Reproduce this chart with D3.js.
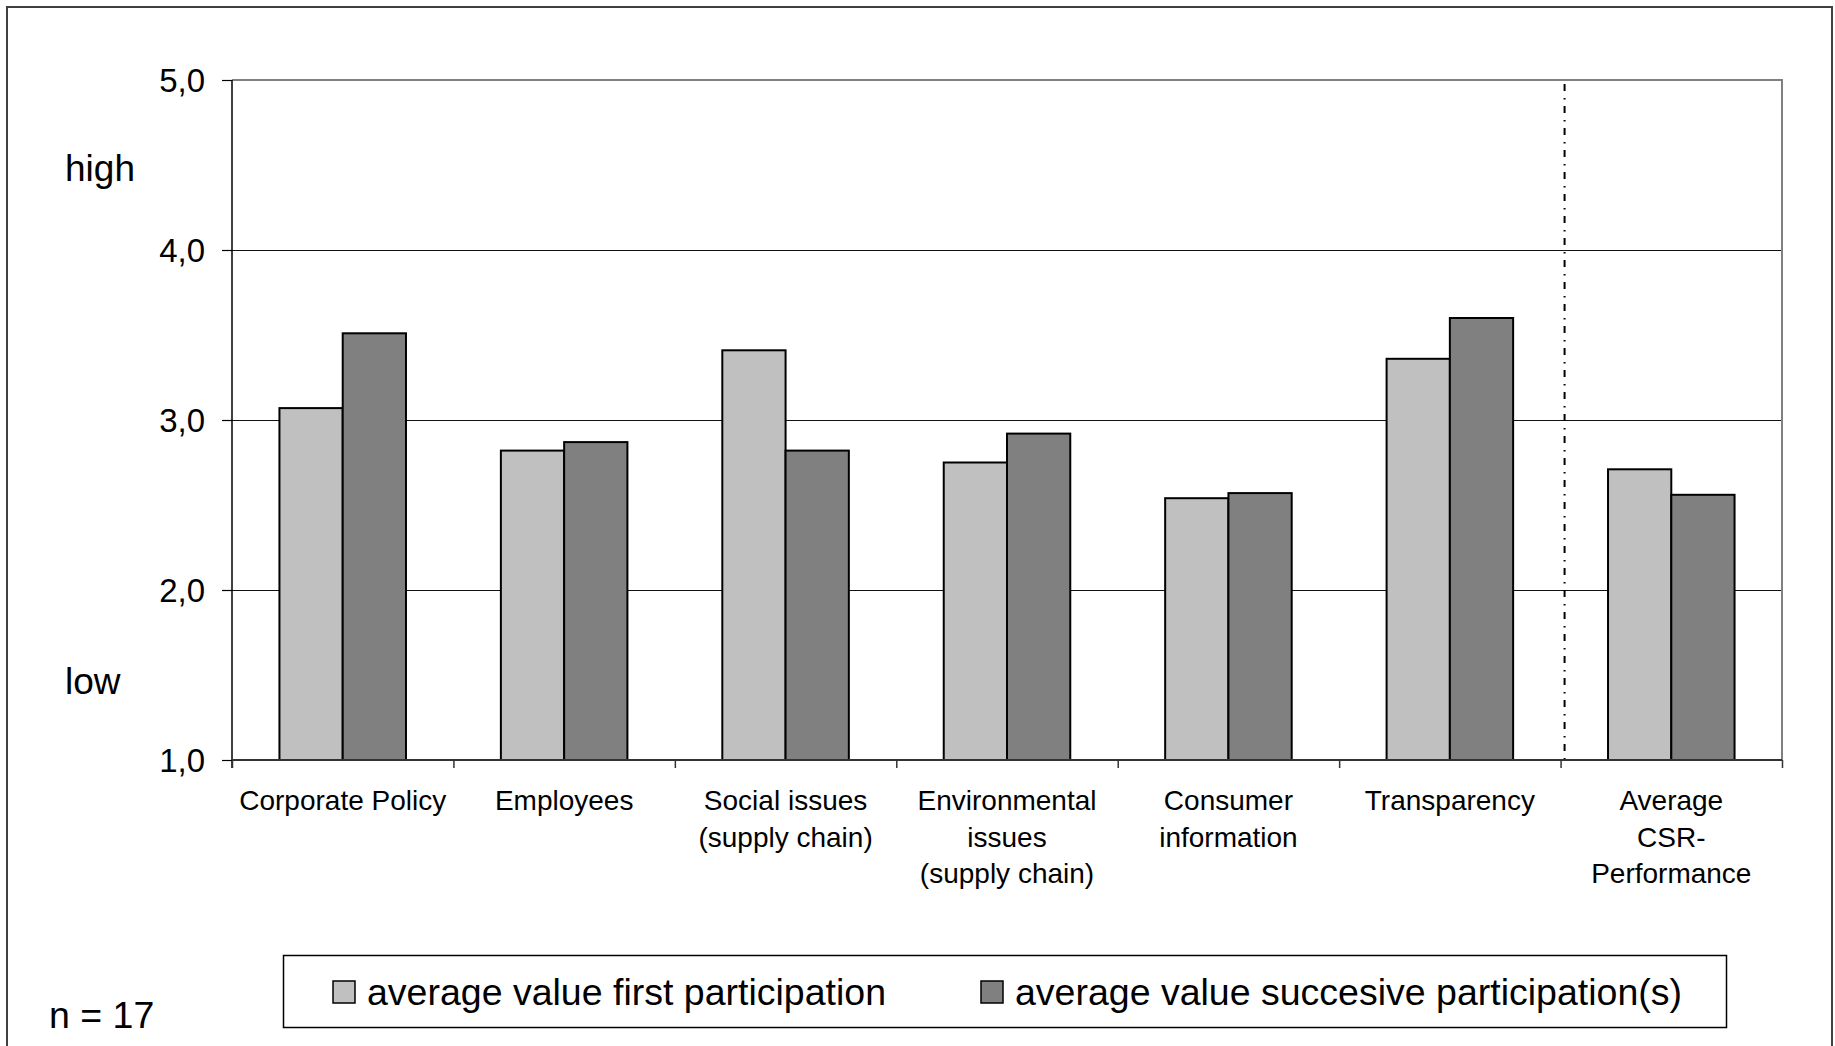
<!DOCTYPE html>
<html>
<head>
<meta charset="utf-8">
<script src="https://cdn.jsdelivr.net/npm/d3@7"></script>
<style>
  html, body { margin: 0; padding: 0; background: #fff; }
  svg { display: block; font-family: "Liberation Sans", Arial, Helvetica, sans-serif; }
</style>
</head>
<body>
<svg id="chart" width="1835" height="1046"></svg>
<script>
// CSR ratings per dimension, first vs. successive participation
const categories = [
  "Corporate Policy",
  "Employees",
  "Social issues\n(supply chain)",
  "Environmental\nissues\n(supply chain)",
  "Consumer\ninformation",
  "Transparency",
  "Average\nCSR-\nPerformance"
];
const seriesNames = [
  "average value first participation",
  "average value succesive participation(s)"
];
const firstParticipation     = [3.07, 2.82, 3.41, 2.75, 2.54, 3.36, 2.71];
const successiveParticipation = [3.51, 2.87, 2.82, 2.92, 2.57, 3.60, 2.56];
const yTicks = [1, 2, 3, 4, 5];
const seriesColors = ["#c0c0c0", "#808080"];
const sampleNote = "n = 17";

const svg = d3.select("#chart");
const W = 1835, H = 1046;
const plot = { left: 232, right: 1782, top: 80, bottom: 760 };

// outer frame
svg.append("rect")
  .attr("x", 7).attr("y", 7)
  .attr("width", W - 7 - 3).attr("height", H + 20)
  .attr("fill", "none").attr("stroke", "#404040").attr("stroke-width", 2);

const x = d3.scaleBand().domain(categories).range([plot.left, plot.right]).paddingInner(0).paddingOuter(0);
const xs = d3.scaleBand().domain([0, 1]).range([0, x.bandwidth()]).paddingInner(0).paddingOuter(0.75);
const y = d3.scaleLinear().domain([1, 5]).range([plot.bottom, plot.top]);

// horizontal gridlines
svg.append("g").selectAll("line")
  .data(yTicks.filter(v => v > 1 && v < 5))
  .join("line")
  .attr("x1", plot.left).attr("x2", plot.right)
  .attr("y1", d => Math.round(y(d)) + 0.5).attr("y2", d => Math.round(y(d)) + 0.5)
  .attr("stroke", "#111").attr("stroke-width", 1);

// plot area border (top / right)
svg.append("path")
  .attr("d", `M${plot.left},${y(5)}H${plot.right}V${plot.bottom}`)
  .attr("fill", "none").attr("stroke", "#808080").attr("stroke-width", 2);

// bars
const rows = categories.map((c, i) => ({ c, vals: [firstParticipation[i], successiveParticipation[i]] }));
const groups = svg.append("g").selectAll("g")
  .data(rows).join("g")
  .attr("transform", d => `translate(${x(d.c)},0)`);
groups.selectAll("rect")
  .data(d => d.vals.map((v, k) => ({ v, k })))
  .join("rect")
  .attr("x", d => xs(d.k))
  .attr("width", xs.bandwidth())
  .attr("y", d => y(d.v))
  .attr("height", d => y(1) - y(d.v))
  .attr("fill", d => seriesColors[d.k])
  .attr("stroke", "#000").attr("stroke-width", 2);

// separator before the overall average
const sepX = x(categories[categories.length - 1]) + 4;
svg.append("line")
  .attr("x1", sepX).attr("x2", sepX)
  .attr("y1", y(5) + 4).attr("y2", plot.bottom + 6)
  .attr("stroke", "#000").attr("stroke-width", 2)
  .attr("stroke-dasharray", "7,7,1.5,6.5");

// y axis
const yAxis = d3.axisLeft(y)
  .tickValues(yTicks)
  .tickSize(10)
  .tickPadding(17)
  .tickFormat(d => d.toFixed(1).replace(".", ","));
const gy = svg.append("g").attr("transform", `translate(${plot.left},0)`).call(yAxis);
gy.select(".domain").attr("stroke", "#000").attr("stroke-width", 1.5)
  .attr("d", `M0,${y(5)}V${plot.bottom + 8}`);
gy.selectAll(".tick line").attr("stroke", "#000").attr("stroke-width", 1.2);
gy.selectAll(".tick text")
  .attr("font-size", 33).attr("fill", "#000")
  .attr("font-family", "Liberation Sans, Arial, sans-serif")
  .attr("dy", "0.36em");

// x axis: boundary ticks
const bx = d3.scaleLinear().domain([0, categories.length]).range([plot.left, plot.right]);
const gxTicks = svg.append("g").attr("transform", `translate(0,${plot.bottom})`)
  .call(d3.axisBottom(bx).tickValues(d3.range(categories.length + 1)).tickSize(8).tickFormat(""));
gxTicks.select(".domain").attr("stroke", "#333").attr("stroke-width", 2)
  .attr("d", `M${plot.left},0H${plot.right}`);
gxTicks.selectAll(".tick line").attr("stroke", "#333").attr("stroke-width", 1.5);

// x axis: category labels (multi-line)
const gx = svg.append("g").attr("transform", `translate(0,${plot.bottom})`)
  .call(d3.axisBottom(x).tickSize(0).tickPadding(0));
gx.select(".domain").remove();
gx.selectAll(".tick text").each(function (d) {
  const t = d3.select(this);
  t.text(null).attr("y", 0).attr("dy", null)
    .attr("font-size", 28).attr("fill", "#000")
    .attr("font-family", "Liberation Sans, Arial, sans-serif");
  d.split("\n").forEach((line, i) => {
    t.append("tspan").attr("x", 0).attr("y", 50 + i * 36.5).text(line);
  });
});

// scale descriptors
svg.append("text").attr("x", 65).attr("y", 181).attr("font-size", 37).text("high");
svg.append("text").attr("x", 65).attr("y", 694).attr("font-size", 37).text("low");

// sample size
svg.append("text").attr("x", 49).attr("y", 1028).attr("font-size", 37.5).text(sampleNote);

// legend
const legend = svg.append("g");
legend.append("rect")
  .attr("x", 283.5).attr("y", 955.5).attr("width", 1443).attr("height", 72)
  .attr("fill", "#fff").attr("stroke", "#000").attr("stroke-width", 1.5);
const legendX = [333, 981];
seriesNames.forEach((name, i) => {
  legend.append("rect")
    .attr("x", legendX[i]).attr("y", 981).attr("width", 22).attr("height", 22)
    .attr("fill", seriesColors[i]).attr("stroke", "#000").attr("stroke-width", 1.5);
  legend.append("text")
    .attr("x", legendX[i] + 34).attr("y", 1005)
    .attr("font-size", 37.5).attr("fill", "#000").text(name);
});
</script>
</body>
</html>
